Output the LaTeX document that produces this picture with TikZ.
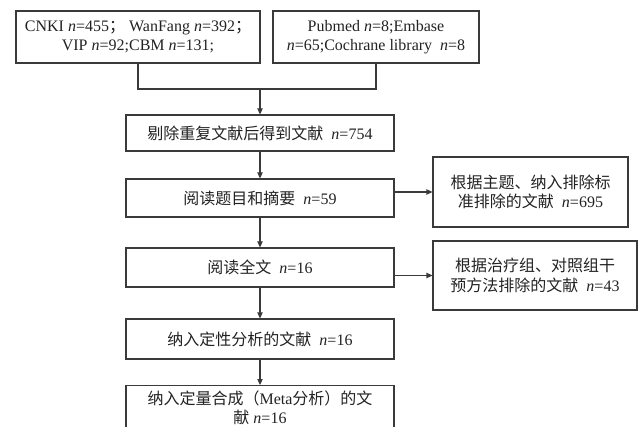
\documentclass[tikz,border=0pt]{standalone}
\usepackage{fontspec}
\setmainfont{Liberation Serif}
\newfontfamily\cjk{Noto Sans CJK SC}
\usetikzlibrary{arrows.meta,calc}
\definecolor{ln}{HTML}{3A3A3A}
\definecolor{tx}{HTML}{222222}
\begin{document}
\begin{tikzpicture}[x=0.75pt,y=-0.75pt,
  box/.style={draw=ln,line width=0.8pt,rectangle,inner sep=2pt,align=center,
    font=\fontsize{12pt}{14.5pt}\selectfont,text=tx},
  conn/.style={draw=ln,line width=0.8pt},
  arr/.style={conn,-{Triangle[length=4.5pt,width=4pt]}}]
\useasboundingbox (0,0) rectangle (638,427);
\clip (0,0) rectangle (638,427);
\node[box,minimum width=244*0.75pt,minimum height=52*0.75pt] (b1) at (138,37)
  {CNKI \textit{n}=455{\cjk ；}~WanFang \textit{n}=392{\cjk ；}\\VIP \textit{n}=92;CBM \textit{n}=131;};
\node[box,minimum width=206*0.75pt,minimum height=52*0.75pt] (b2) at (376,37)
  {Pubmed \textit{n}=8;Embase\\\textit{n}=65;Cochrane library~~\textit{n}=8};
\node[box,minimum width=268*0.75pt,minimum height=36*0.75pt] (b3) at (260,133)
  {{\cjk 剔除重复文献后得到文献}~~\textit{n}=754};
\node[box,minimum width=268*0.75pt,minimum height=38*0.75pt] (b4) at (260,198)
  {{\cjk 阅读题目和摘要}~~\textit{n}=59};
\node[box,minimum width=268*0.75pt,minimum height=39*0.75pt] (b5) at (260,267.5)
  {{\cjk 阅读全文}~~\textit{n}=16};
\node[box,minimum width=268*0.75pt,minimum height=40*0.75pt] (b6) at (260,339)
  {{\cjk 纳入定性分析的文献}~~\textit{n}=16};
\node[box,anchor=north,minimum width=268*0.75pt,inner ysep=4pt] (b7) at (260,385)
  {{\cjk 纳入定量合成（}Meta{\cjk 分析）的文}\\{\cjk 献} \textit{n}=16\rule[-20pt]{0pt}{1pt}};
\node[box,minimum width=195*0.75pt,minimum height=70*0.75pt] (r1) at (530.5,192)
  {{\cjk 根据主题、纳入排除标}\\{\cjk 准排除的文献}~~\textit{n}=695};
\node[box,minimum width=204*0.75pt,minimum height=69*0.75pt] (r2) at (535,275.5)
  {{\cjk 根据治疗组、对照组干}\\{\cjk 预方法排除的文献}~~\textit{n}=43};
\coordinate (m) at (260,89);
\draw[conn] (b1.south) |- (m) -| (b2.south);
\draw[arr] (m) -- (b3.north);
\draw[arr] (b3) -- (b4);
\draw[arr] (b4) -- (b5);
\draw[arr] (b5) -- (b6);
\draw[arr] (b6) -- (b7);
\draw[arr] (b4.east |- r1.west) -- (r1.west);
\draw[arr] (b5.east |- r2.west) -- (r2.west);
\end{tikzpicture}
\end{document}
